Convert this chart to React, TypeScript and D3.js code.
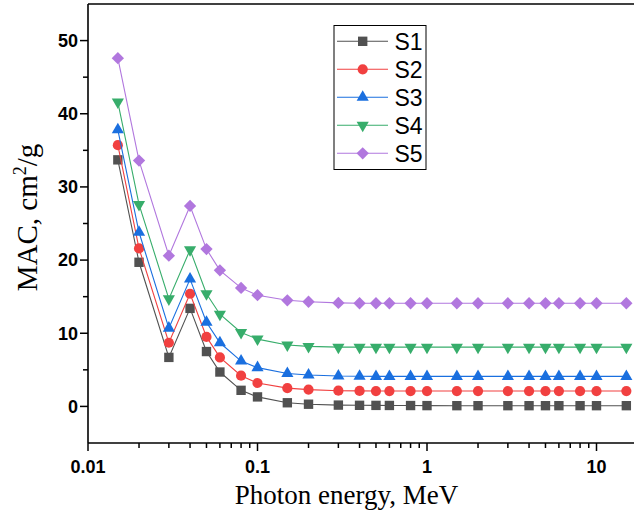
import React from "react";
import * as d3 from "d3";

const energy = [0.015, 0.02, 0.03, 0.04, 0.05, 0.06, 0.08, 0.1, 0.15, 0.2, 0.3, 0.4, 0.5, 0.6, 0.8, 1, 1.5, 2, 3, 4, 5, 6, 8, 10, 15];
const S1 = [33.7, 19.7, 6.7, 13.4, 7.5, 4.7, 2.2, 1.3, 0.5, 0.3, 0.18, 0.15, 0.14, 0.13, 0.12, 0.11, 0.1, 0.1, 0.1, 0.1, 0.1, 0.1, 0.1, 0.1, 0.1];
const S2 = [35.7, 21.6, 8.7, 15.4, 9.5, 6.7, 4.2, 3.2, 2.5, 2.3, 2.15, 2.12, 2.1, 2.1, 2.1, 2.1, 2.1, 2.1, 2.1, 2.1, 2.1, 2.1, 2.1, 2.1, 2.1];
const S3 = [37.8, 23.8, 10.7, 17.4, 11.5, 8.7, 6.2, 5.3, 4.5, 4.3, 4.15, 4.12, 4.1, 4.1, 4.1, 4.1, 4.1, 4.1, 4.1, 4.1, 4.1, 4.1, 4.1, 4.1, 4.1];
const S4 = [41.6, 27.6, 14.7, 21.4, 15.4, 12.6, 10.1, 9.2, 8.4, 8.2, 8.1, 8.1, 8.1, 8.1, 8.1, 8.1, 8.1, 8.1, 8.1, 8.1, 8.1, 8.1, 8.1, 8.1, 8.1];
const S5 = [47.6, 33.6, 20.6, 27.4, 21.5, 18.6, 16.2, 15.2, 14.5, 14.3, 14.15, 14.1, 14.1, 14.1, 14.1, 14.1, 14.1, 14.1, 14.1, 14.1, 14.1, 14.1, 14.1, 14.1, 14.1];

const seriesNames = ["S1", "S2", "S3", "S4", "S5"];
const seriesValues = [S1, S2, S3, S4, S5];
const colors = ["#515151", "#F14040", "#1A6FDF", "#37AD6B", "#B177DE"];

const yTicks = [0, 10, 20, 30, 40, 50];
const yMinor = [5, 15, 25, 35, 45];
const xTicks = [0.01, 0.1, 1, 10];
const xTickLabels = ["0.01", "0.1", "1", "10"];

const W = 634;
const H = 511;
const left = 88;
const right = 634;
const top = 4;
const bottom = 443;

const x = d3.scaleLog().domain([0.01, 10]).range([left, 596.5]);
const y = d3.scaleLinear().domain([-5, 55]).range([bottom, top]);

const markerPath = (i: number): { d: string; rot: number } => {
  const sym = d3.symbol();
  if (i === 0) return { d: sym.type(d3.symbolSquare).size(88)() as string, rot: 0 };
  if (i === 1) return { d: sym.type(d3.symbolCircle).size(82)() as string, rot: 0 };
  if (i === 2) return { d: sym.type(d3.symbolTriangle).size(64)() as string, rot: 0 };
  if (i === 3) return { d: sym.type(d3.symbolTriangle).size(64)() as string, rot: 180 };
  return { d: sym.type(d3.symbolSquare).size(76)() as string, rot: 45 };
};

const xMinor: number[] = [];
for (const dec of [0.01, 0.1, 1]) {
  for (let k = 2; k <= 9; k++) xMinor.push(dec * k);
}
for (let k = 2; k <= 9; k++) {
  if (x(10 * k) <= right) xMinor.push(10 * k);
}

export default function App() {
  const line = d3
    .line<[number, number]>()
    .x((d) => x(d[0]))
    .y((d) => y(d[1]));

  const tickFont = "'Liberation Sans', Arial, sans-serif";
  const serif = "'Liberation Serif', 'Times New Roman', serif";

  return (
    <svg width={W} height={H} style={{ position: "absolute", left: 0, top: 0, background: "#fff" }}>
      <rect x={0} y={0} width={W} height={H} fill="#fff" />
      {seriesValues.map((vals, si) => {
        const pts: [number, number][] = energy.map((e, j) => [e, vals[j]]);
        const m = markerPath(si);
        return (
          <g key={si}>
            <path d={line(pts) as string} fill="none" stroke={colors[si]} strokeWidth={1.1} />
            {pts.map((p, j) => (
              <path
                key={j}
                d={m.d}
                transform={`translate(${x(p[0])},${y(p[1])}) rotate(${m.rot})`}
                fill={colors[si]}
              />
            ))}
          </g>
        );
      })}

      <line x1={left} x2={right} y1={top} y2={top} stroke="#000" strokeWidth={1.6} />
      <line x1={left} x2={right} y1={bottom} y2={bottom} stroke="#000" strokeWidth={1.6} />
      <line x1={left} x2={left} y1={top} y2={bottom} stroke="#000" strokeWidth={1.6} />

      {yTicks.map((t) => (
        <g key={t}>
          <line x1={left - 8} x2={left} y1={y(t)} y2={y(t)} stroke="#000" strokeWidth={1.5} />
          <text
            x={78}
            y={y(t) + 6.3}
            textAnchor="end"
            fontFamily={tickFont}
            fontWeight="bold"
            fontSize={18}
            fill="#000"
          >
            {t}
          </text>
        </g>
      ))}
      {yMinor.map((t) => (
        <line key={t} x1={left - 5} x2={left} y1={y(t)} y2={y(t)} stroke="#000" strokeWidth={1.5} />
      ))}

      {xTicks.map((t, i) => (
        <g key={t}>
          <line x1={x(t)} x2={x(t)} y1={bottom} y2={bottom + 8} stroke="#000" strokeWidth={1.5} />
          <text
            x={x(t)}
            y={473}
            textAnchor="middle"
            fontFamily={tickFont}
            fontWeight="bold"
            fontSize={18}
            fill="#000"
          >
            {xTickLabels[i]}
          </text>
        </g>
      ))}
      {xMinor.map((t) => (
        <line key={t} x1={x(t)} x2={x(t)} y1={bottom} y2={bottom + 5} stroke="#000" strokeWidth={1.5} />
      ))}

      <text x={346.5} y={504} textAnchor="middle" fontFamily={serif} fontSize={27} fill="#000">
        Photon energy, MeV
      </text>
      <text
        transform="translate(37,217.5) rotate(-90)"
        textAnchor="middle"
        fontFamily={serif}
        fontSize={29}
        fill="#000"
      >
        MAC, cm<tspan dy={-11} fontSize={18}>2</tspan>
        <tspan dy={11}>/g</tspan>
      </text>

      <rect x={334} y={25.5} width={92} height={144} fill="#fff" stroke="#000" strokeWidth={1} />
      {seriesNames.map((name, si) => {
        const cy = 41.3 + si * 28;
        const m = markerPath(si);
        return (
          <g key={name}>
            <line x1={337} x2={388} y1={cy} y2={cy} stroke={colors[si]} strokeWidth={1.1} />
            <path d={m.d} transform={`translate(362.7,${cy}) rotate(${m.rot})`} fill={colors[si]} />
            <text x={394.5} y={cy + 8.2} fontFamily={tickFont} fontSize={23} fill="#000">
              {name}
            </text>
          </g>
        );
      })}
    </svg>
  );
}
